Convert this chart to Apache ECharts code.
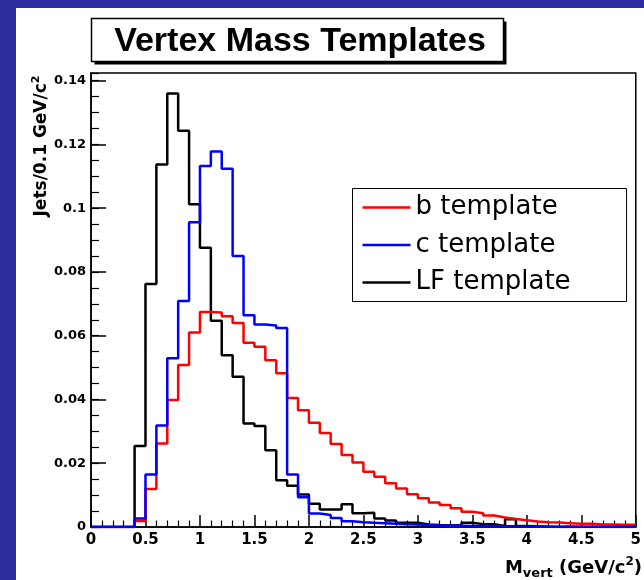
<!DOCTYPE html>
<html>
<head>
<meta charset="utf-8">
<script src="https://cdn.jsdelivr.net/npm/echarts@6/dist/echarts.min.js"></script>
<style>html,body{margin:0;padding:0;background:#fff}#c{width:644px;height:580px}</style>
</head>
<body>
<div id="c"></div>
<script>
// Bin edges (GeV/c^2), bins of 0.1 from 0 to 5
const binEdges = [0.0,0.1,0.2,0.3,0.4,0.5,0.6,0.7,0.8,0.9,
                  1.0,1.1,1.2,1.3,1.4,1.5,1.6,1.7,1.8,1.9,
                  2.0,2.1,2.2,2.3,2.4,2.5,2.6,2.7,2.8,2.9,
                  3.0,3.1,3.2,3.3,3.4,3.5,3.6,3.7,3.8,3.9,
                  4.0,4.1,4.2,4.3,4.4,4.5,4.6,4.7,4.8,4.9,5.0];

const seriesNames = ['b template', 'c template', 'LF template'];

// b template (red)
const bTemplate = [0,0,0,0,0.0019,0.0119,0.0262,0.0398,0.0508,0.0610,
                   0.0674,0.0673,0.0661,0.0640,0.0578,0.0565,0.0523,0.0482,0.0405,0.0366,
                   0.0327,0.0295,0.0260,0.0226,0.0202,0.0173,0.0158,0.0137,0.0121,0.0103,
                   0.0090,0.0077,0.0069,0.0059,0.0048,0.0043,0.0036,0.0030,0.0025,0.0021,
                   0.0017,0.0015,0.0014,0.0012,0.0010,0.0010,0.0008,0.0008,0.0007,0.0007];

// c template (blue)
const cTemplate = [0,0,0,0,0.0027,0.0165,0.0318,0.0529,0.0709,0.0956,
                   0.1132,0.1178,0.1124,0.0850,0.0664,0.0635,0.0632,0.0624,0.0165,0.0093,
                   0.0042,0.0038,0.0028,0.0018,0.0015,0.0013,0.0012,0.0010,0.0009,0.0008,
                   0.0006,0.0005,0.0004,0.0004,0.0003,0.0003,0.0003,0.0002,0.0002,0.0001,
                   0.0001,0.0001,0.0001,0.0001,0.0001,0.0001,0.0001,0.0001,0.0001,0.0001];

// LF template (black)
const lfTemplate = [0,0,0,0,0.0254,0.0762,0.1137,0.1360,0.1243,0.1012,
                    0.0876,0.0647,0.0539,0.0471,0.0325,0.0317,0.0241,0.0147,0.0129,0.0102,
                    0.0073,0.0055,0.0055,0.0071,0.0043,0.0045,0.0027,0.0020,0.0013,0.0013,
                    0.0008,0.0006,0.0005,0.0006,0.0013,0.0009,0.0009,0.0003,0.0024,0.0003,
                    0.0002,0.0001,0,0.0001,0,0,0,0,0,0];

const xTicks = { min: 0, max: 5, interval: 0.5 };
const yTicks = { min: 0, max: 0.1424, interval: 0.02, minorInterval: 0.005 };

function toSteps(vals) {
  return binEdges.map((x, i) => [x, vals[Math.min(i, vals.length - 1)]]);
}

const chart = echarts.init(document.getElementById('c'), null, { renderer: 'canvas' });
const lblFont = 'DejaVu Sans';
const black = '#000';

chart.setOption({
  backgroundColor: '#ffffff',
  animation: false,
  grid: { left: 91, right: 1, top: 73, bottom: 53, show: true, borderColor: black, borderWidth: 1.5, backgroundColor: '#fff' },
  legend: {
    orient: 'vertical', left: 352.5, top: 188.5,
    padding: [4, 56, 4, 10], itemGap: 7.5, itemWidth: 48, itemHeight: 2.5,
    icon: 'rect',
    borderColor: black, borderWidth: 1, backgroundColor: '#fff', borderRadius: 0,
    textStyle: { fontFamily: lblFont, fontSize: 26, color: black, lineHeight: 30 },
    data: seriesNames
  },
  xAxis: {
    type: 'value', min: xTicks.min, max: xTicks.max, interval: xTicks.interval,
    axisLine: { onZero: false, lineStyle: { color: black, width: 1.5 } },
    axisTick: { inside: true, length: 12, lineStyle: { color: black, width: 1.5 } },
    minorTick: { show: true, splitNumber: 5, length: 6.5, lineStyle: { color: black, width: 1.2 } },
    splitLine: { show: false },
    axisLabel: { color: black, fontFamily: lblFont, fontWeight: 'bold', fontSize: 15, margin: 6 }
  },
  yAxis: [{
    type: 'value', min: yTicks.min, max: yTicks.max, interval: yTicks.interval,
    axisLine: { show: true, onZero: false, lineStyle: { color: black, width: 1.5 } },
    axisTick: { inside: true, length: 15, lineStyle: { color: black, width: 1.5 } },
    splitLine: { show: false },
    axisLabel: { color: black, fontFamily: lblFont, fontWeight: 'bold', fontSize: 13, margin: 5, showMaxLabel: false }
  }, {
    type: 'value', position: 'left', min: yTicks.min, max: yTicks.max, interval: yTicks.minorInterval,
    axisLine: { show: false },
    axisTick: { show: true, inside: true, length: 8, lineStyle: { color: black, width: 1.2 } },
    splitLine: { show: false },
    axisLabel: { show: false }
  }],
  series: [
    { name: 'LF template', type: 'line', step: 'end', symbol: 'none', yAxisIndex: 0,
      data: toSteps(lfTemplate), lineStyle: { color: '#000000', width: 2.5 }, itemStyle: { color: '#000000' } },
    { name: 'b template', type: 'line', step: 'end', symbol: 'none', yAxisIndex: 0,
      data: toSteps(bTemplate), lineStyle: { color: '#ff0000', width: 2.5 }, itemStyle: { color: '#ff0000' } },
    { name: 'c template', type: 'line', step: 'end', symbol: 'none', yAxisIndex: 0,
      data: toSteps(cTemplate), lineStyle: { color: '#0000ff', width: 2.5 }, itemStyle: { color: '#0000ff' } }
  ],
  graphic: [
    { type: 'rect', shape: { x: 0, y: 0, width: 16, height: 580 }, style: { fill: '#2b2d9e' } },
    { type: 'rect', shape: { x: 0, y: 0, width: 644, height: 8 }, style: { fill: '#2b2d9e' } },
    { type: 'rect', shape: { x: 94.5, y: 21.5, width: 412, height: 43 }, style: { fill: '#000' } },
    { type: 'rect', shape: { x: 91.5, y: 18.5, width: 412, height: 43 }, style: { fill: '#fff', stroke: '#000', lineWidth: 1.5 } },
    { type: 'text', x: 300, y: 42, style: {
        text: 'Vertex Mass Templates', fill: '#000',
        fontFamily: 'Liberation Sans', fontWeight: 'bold', fontSize: 34,
        align: 'center', verticalAlign: 'middle', textAlign: 'center', textVerticalAlign: 'middle' } },
    { type: 'text', x: 42, y: 146, rotation: Math.PI / 2, style: {
        text: '{a|Jets/0.1 GeV/c}{s|2}', fill: '#000',
        align: 'center', verticalAlign: 'middle', textAlign: 'center', textVerticalAlign: 'middle',
        rich: {
          a: { fontFamily: lblFont, fontWeight: 'bold', fontSize: 17, lineHeight: 22, verticalAlign: 'middle', fill: '#000', color: '#000' },
          s: { fontFamily: lblFont, fontWeight: 'bold', fontSize: 11, lineHeight: 11, verticalAlign: 'top', fill: '#000', color: '#000' }
        } } },
    { type: 'text', x: 642, y: 568, style: {
        text: '{m|M}{sub|vert}{m| (GeV/c}{sup|2}{m|)}', fill: '#000',
        align: 'right', verticalAlign: 'middle', textAlign: 'right', textVerticalAlign: 'middle',
        rich: {
          m: { fontFamily: lblFont, fontWeight: 'bold', fontSize: 18, lineHeight: 24, verticalAlign: 'middle', fill: '#000', color: '#000' },
          sub: { fontFamily: lblFont, fontWeight: 'bold', fontSize: 13, lineHeight: 12, verticalAlign: 'bottom', fill: '#000', color: '#000' },
          sup: { fontFamily: lblFont, fontWeight: 'bold', fontSize: 12, lineHeight: 12, verticalAlign: 'top', fill: '#000', color: '#000' }
        } } }
  ]
});
</script>
</body>
</html>
